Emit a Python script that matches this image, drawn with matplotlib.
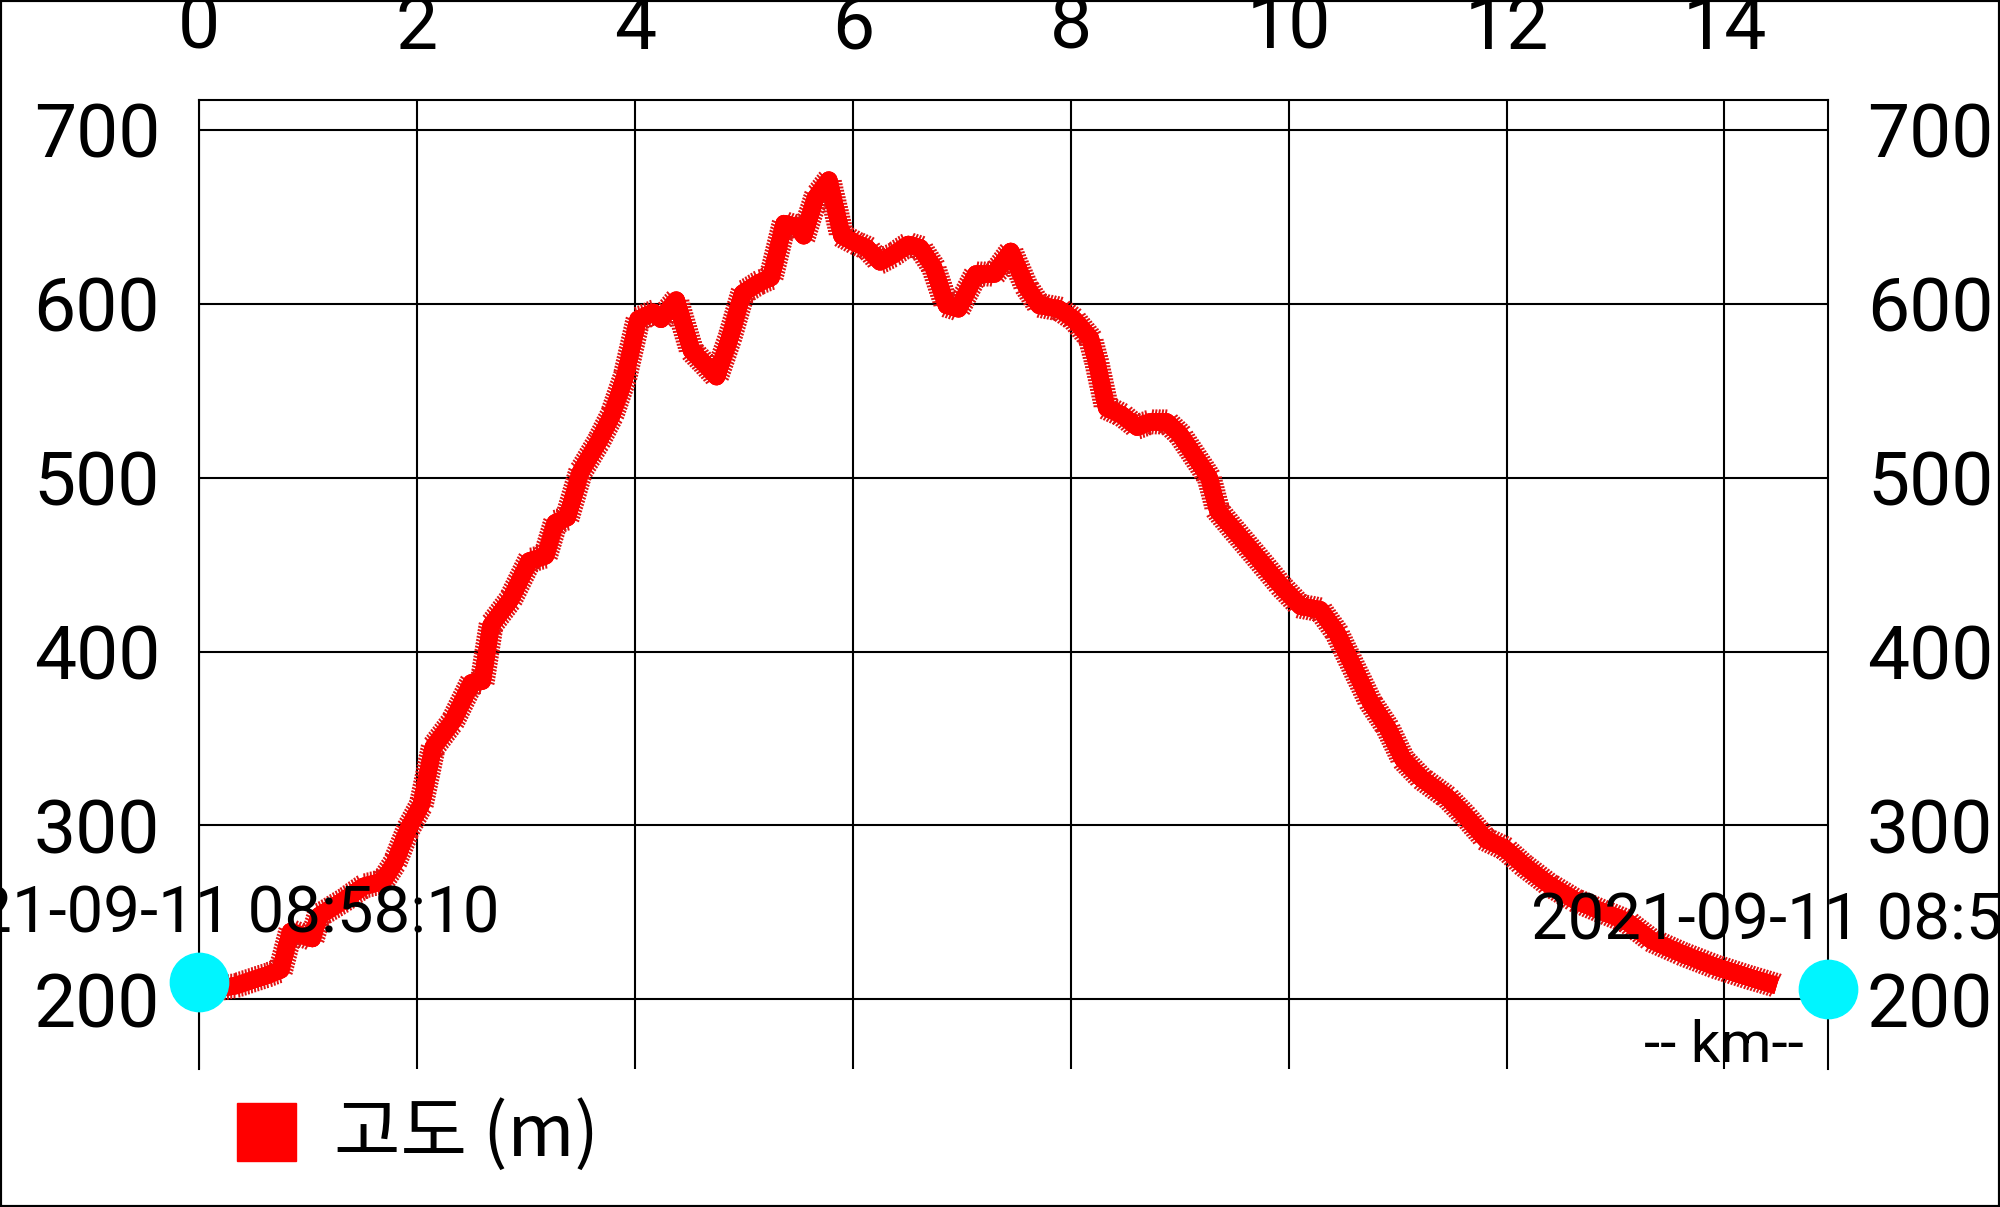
import numpy as np
import matplotlib.pyplot as plt
import matplotlib.patheffects as pe
from matplotlib.patches import Rectangle

plt.rcParams['font.family'] = ['Roboto', 'Noto Sans CJK KR', 'DejaVu Sans']

# elevation profile
dist_km = [0.16, 0.34, 0.63, 0.75, 0.84, 1.04, 1.10, 1.33, 1.51, 1.69, 1.80, 1.92,
           2.04, 2.15, 2.33, 2.50, 2.60, 2.68, 2.86, 3.03, 3.18, 3.27, 3.38, 3.50,
           3.67, 3.79, 3.91, 4.03, 4.17, 4.24, 4.38, 4.52, 4.63, 4.75, 4.87, 4.99,
           5.14, 5.25, 5.37, 5.49, 5.55, 5.66, 5.78, 5.90, 6.02, 6.13, 6.25, 6.37,
           6.51, 6.62, 6.74, 6.86, 6.97, 7.13, 7.30, 7.45, 7.59, 7.71, 7.89, 8.03,
           8.18, 8.24, 8.33, 8.47, 8.61, 8.73, 8.88, 9.00, 9.12, 9.27, 9.35, 9.47,
           9.70, 9.94, 10.11, 10.29, 10.44, 10.58, 10.75, 10.91, 11.05, 11.22, 11.46,
           11.63, 11.81, 11.98, 12.16, 12.39, 12.63, 12.86, 13.10, 13.33, 13.62,
           13.91, 14.21, 14.48]
elev_m = [206, 208, 214, 217, 239, 235, 248, 257, 265, 268, 279, 298,
          312, 345, 360, 382, 383, 415, 430, 452, 455, 474, 477, 503,
          521, 536, 558, 591, 595, 591, 602, 573, 566, 558, 580, 606,
          612, 615, 646, 644, 639, 661, 671, 639, 635, 632, 624, 628,
          634, 632, 621, 599, 597, 617, 617, 630, 610, 599, 597, 591,
          580, 566, 540, 536, 529, 532, 532, 525, 514, 500, 481, 472,
          455, 437, 426, 424, 411, 393, 371, 356, 338, 327, 316,
          305, 292, 287, 277, 266, 257, 251, 245, 234, 226,
          219, 213, 208]

marker_x = [0, 14.95]
marker_y = [210, 206]
marker_text = ['2021-09-11 08:58:10', '2021-09-11 08:58:10']

x_ticks = [0, 2, 4, 6, 8, 10, 12, 14]
y_ticks = [200, 300, 400, 500, 600, 700]
legend_label = '고도 (m)'

fig = plt.figure(figsize=(20, 12.07), dpi=100)
ax = fig.add_axes([0.0995, 0.1143, 0.8145, 0.8028])

ax.set_xlim(0, 14.95)
ax.set_ylim(160, 717)
ax.set_xticks(x_ticks)
ax.set_yticks(y_ticks)
ax.grid(True, color='black', linewidth=1.5)
ax.xaxis.tick_top()
ax.tick_params(axis='x', length=0, pad=26, labelsize=54)
ax.tick_params(axis='y', length=0, pad=28, labelsize=54, labelright=True)
for s in ['top', 'left', 'right']:
    ax.spines[s].set_linewidth(1.5)
ax.spines['bottom'].set_visible(False)

# hairy red line
hair = dict(spacing=2.4, length=3.8, foreground='#e31212', linewidth=1.4)
ax.plot(dist_km, elev_m, color='red', linewidth=12.5, solid_capstyle='butt',
        path_effects=[pe.withTickedStroke(angle=80, **hair),
                      pe.withTickedStroke(angle=-100, **hair),
                      pe.Normal()], zorder=3)

ax.plot(marker_x, marker_y, 'o', color='#00f5ff', markersize=42,
        clip_on=False, zorder=4)
for mx, my, t in zip(marker_x, marker_y, marker_text):
    ax.annotate(t, xy=(mx, my), xytext=(1, 36), textcoords='offset points',
                ha='center', va='baseline', fontsize=47, zorder=5,
                annotation_clip=False)

ax.text(0.985, 0.007, '-- km--', transform=ax.transAxes, ha='right',
        va='baseline', fontsize=42)

# legend
fig.patches.append(Rectangle((237 / 2000, 1 - 1161 / 1207), 59 / 2000, 58 / 1207,
                             transform=fig.transFigure, color='red'))
fig.text(334 / 2000, 1 - 1156 / 1207, legend_label, fontsize=52,
         family=['Noto Sans CJK KR'], va='baseline')

# outer frame
fig.patches.append(Rectangle((0, 0), 1, 1, transform=fig.transFigure,
                             fill=False, edgecolor='black', linewidth=3))

fig.savefig('out.png', dpi=100)
